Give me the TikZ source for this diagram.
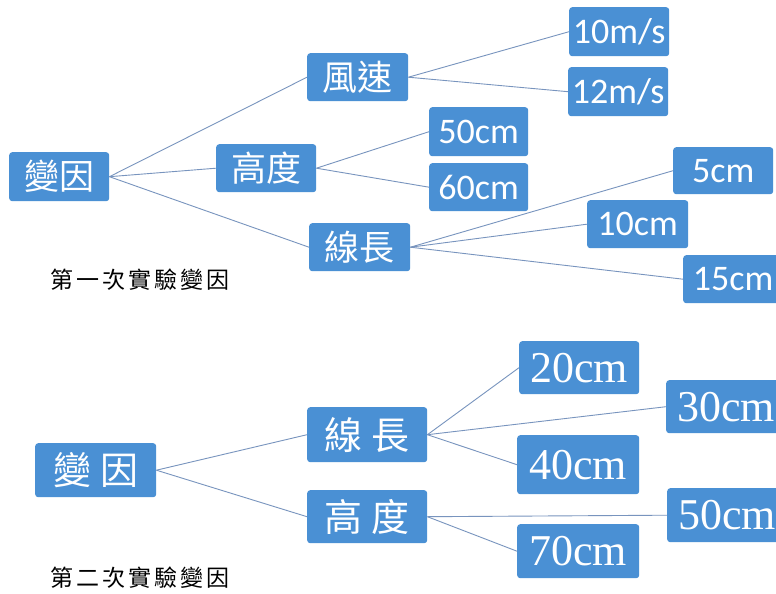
\documentclass[tikz,border=0pt]{standalone}
\usepackage{fontspec}
\newfontfamily\cjk{Noto Sans CJK TC}
\newfontfamily\calfont{Carlito}
\newfontfamily\timesfont{Liberation Serif}
\definecolor{boxblue}{RGB}{74,144,212}
\definecolor{linkc}{RGB}{120,148,190}
\begin{document}
\begin{tikzpicture}[x=1pt,y=-1pt,
  bx/.style={fill=boxblue,rounded corners=3pt,inner sep=0pt,text=white,anchor=north west},
  link/.style={draw=linkc,line width=0.9pt},
  capt/.style={text=black,font=\cjk\fontsize{23}{23}\selectfont}]
\useasboundingbox[fill=white] (0,0) rectangle (776,594);
% ---- first diagram ----
\newcommand{\tb}[6]{\node[bx,minimum width=#4,minimum height=#5] (#1) at (#2,#3) {#6};}
\tb{a0}{9}{152}{100}{49}{\cjk\fontsize{35}{35}\selectfont 變因}
\tb{a1}{307}{53}{101}{48}{\cjk\fontsize{35}{35}\selectfont 風速}
\tb{a2}{216}{144}{100}{48}{\cjk\fontsize{35}{35}\selectfont 高度}
\tb{a3}{309}{223}{101}{48}{\cjk\fontsize{35}{35}\selectfont 線長}
\tb{b1}{569}{7}{100}{49}{\calfont\fontsize{36}{36}\selectfont 10m/s}
\tb{b2}{568}{67}{100}{49}{\calfont\fontsize{36}{36}\selectfont 12m/s}
\tb{c1}{429}{107}{99}{49}{\calfont\fontsize{36}{36}\selectfont 50cm}
\tb{c2}{429}{163}{99}{48}{\calfont\fontsize{36}{36}\selectfont 60cm}
\tb{d1}{673}{147}{100}{47}{\calfont\fontsize{36}{36}\selectfont 5cm}
\tb{d2}{587}{200}{101}{48}{\calfont\fontsize{36}{36}\selectfont 10cm}
\tb{d3}{683}{255}{100}{48}{\calfont\fontsize{36}{36}\selectfont 15cm}
\draw[link] (a0.east) -- (a1.west);
\draw[link] (a0.east) -- (a2.west);
\draw[link] (a0.east) -- (a3.west);
\draw[link] (a1.east) -- (b1.west);
\draw[link] (a1.east) -- (b2.west);
\draw[link] (a2.east) -- (c1.west);
\draw[link] (a2.east) -- (c2.west);
\draw[link] (a3.east) -- (d1.west);
\draw[link] (a3.east) -- (d2.west);
\draw[link] (a3.east) -- (d3.west);
\node[capt] (cap1) at (140,280) {第\hspace{3pt}一\hspace{3pt}次\hspace{3pt}實\hspace{3pt}驗\hspace{3pt}變\hspace{3pt}因};
% ---- second diagram ----
\tb{e0}{35}{443}{121}{54}{\cjk\fontsize{38}{38}\selectfont 變\hspace{9pt}因}
\tb{e1}{307}{407}{120}{55}{\cjk\fontsize{38}{38}\selectfont 線\hspace{9pt}長}
\tb{e2}{307}{490}{120}{53}{\cjk\fontsize{38}{38}\selectfont 高\hspace{9pt}度}
\tb{f1}{519}{341}{120}{53}{\timesfont\fontsize{44}{44}\selectfont 20cm}
\tb{f2}{666}{380}{120}{53}{\timesfont\fontsize{44}{44}\selectfont 30cm}
\tb{f3}{517}{435}{122}{59}{\timesfont\fontsize{44}{44}\selectfont 40cm}
\tb{g1}{667}{488}{120}{54}{\timesfont\fontsize{44}{44}\selectfont 50cm}
\tb{g2}{517}{524}{122}{54}{\timesfont\fontsize{44}{44}\selectfont 70cm}
\draw[link] (e0.east) -- (e1.west);
\draw[link] (e0.east) -- (e2.west);
\draw[link] (e1.east) -- (f1.west);
\draw[link] (e1.east) -- (f2.west);
\draw[link] (e1.east) -- (f3.west);
\draw[link] (e2.east) -- (g1.west);
\draw[link] (e2.east) -- (g2.west);
\node[capt] (cap2) at (140,578) {第\hspace{3pt}二\hspace{3pt}次\hspace{3pt}實\hspace{3pt}驗\hspace{3pt}變\hspace{3pt}因};
\end{tikzpicture}
\end{document}
